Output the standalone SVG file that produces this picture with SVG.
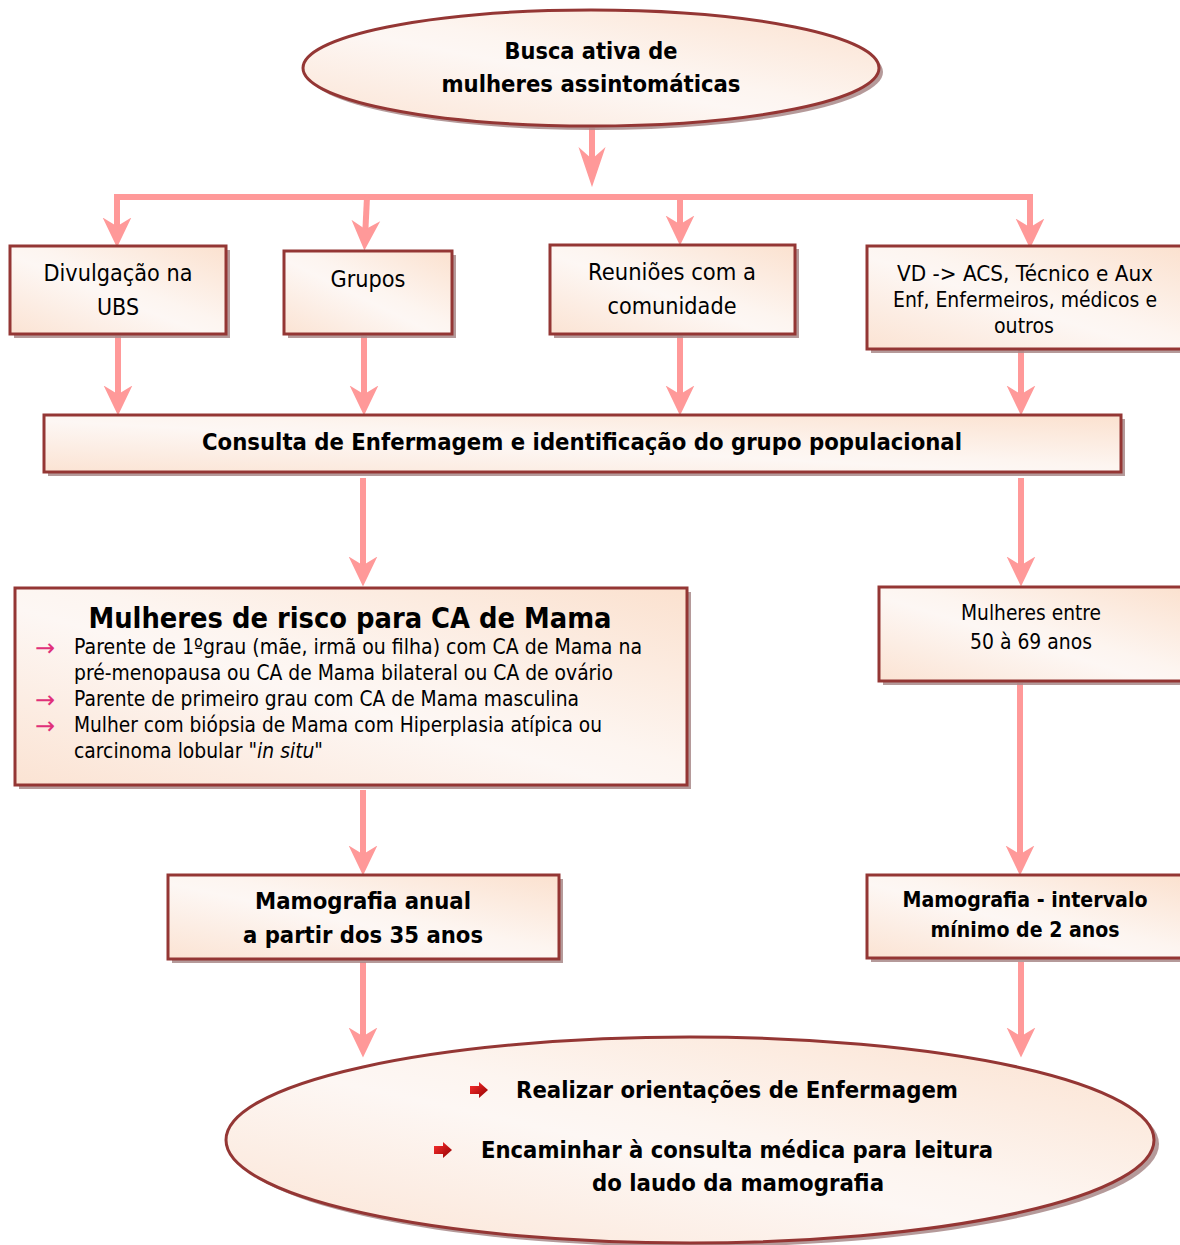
<svg xmlns="http://www.w3.org/2000/svg" width="1180" height="1245" viewBox="0 0 1180 1245">
<defs>
<linearGradient id="fill" x1="0" y1="1" x2="1" y2="0">
<stop offset="0" stop-color="#fbe3d3"/>
<stop offset="0.45" stop-color="#fdf7f4"/>
<stop offset="0.55" stop-color="#fdf5f0"/>
<stop offset="1" stop-color="#fbe1cf"/>
</linearGradient>
<linearGradient id="bul" x1="0" y1="0" x2="1" y2="1">
<stop offset="0" stop-color="#ff3030"/>
<stop offset="1" stop-color="#900000"/>
</linearGradient>
<marker id="ah" markerUnits="userSpaceOnUse" markerWidth="30" markerHeight="30" viewBox="0 -12 24 24" refX="14" refY="0" orient="auto">
<path d="M0,-11.5 L24,0 L0,11.5 L7,0 Z" fill="#ff9999"/>
</marker>
<marker id="ahBig" markerUnits="userSpaceOnUse" markerWidth="40" markerHeight="40" viewBox="0 -12 34 24" refX="22" refY="0" orient="auto">
<path d="M0,-11.5 L34,0 L0,11.5 L10,0 Z" fill="#ff9999"/>
</marker>
</defs>
<style>
.shadow{fill:#a88888;opacity:0.85}
.box{fill:url(#fill);stroke:#943634;stroke-width:3}
.t{font-family:"DejaVu Sans","Liberation Sans",sans-serif;fill:#000}
.b{font-weight:bold}
.c{text-anchor:middle}
.conn{stroke:#ff9999;stroke-width:6;fill:none}
.arr{marker-end:url(#ah)}
.pk{fill:#e0307a}
</style>
<rect width="1180" height="1245" fill="#fff"/>

<g id="connectors">
<line class="conn" x1="592" y1="128" x2="592" y2="173" marker-end="url(#ahBig)"/>
<polyline class="conn" points="117,236 117,197 1030,197 1030,236" style="marker-end:url(#ah)"/>
<line class="conn" x1="117" y1="200" x2="117" y2="235" marker-end="url(#ah)"/>
<line class="conn arr" x1="367" y1="197" x2="365" y2="238"/>
<line class="conn arr" x1="680" y1="197" x2="680" y2="233"/>
<line class="conn arr" x1="118" y1="336" x2="118" y2="403"/>
<line class="conn arr" x1="364" y1="336" x2="364" y2="403"/>
<line class="conn arr" x1="680" y1="336" x2="680" y2="403"/>
<line class="conn arr" x1="1021" y1="350" x2="1021" y2="403"/>
<line class="conn arr" x1="363" y1="478" x2="363" y2="574"/>
<line class="conn arr" x1="1021" y1="478" x2="1021" y2="574"/>
<line class="conn arr" x1="363" y1="790" x2="363" y2="863"/>
<line class="conn arr" x1="1020" y1="683" x2="1020" y2="863"/>
<line class="conn arr" x1="363" y1="962" x2="363" y2="1045"/>
<line class="conn arr" x1="1021" y1="962" x2="1021" y2="1045"/>
</g>

<g id="busca">
<ellipse class="shadow" cx="595" cy="72" rx="288" ry="58"/>
<ellipse class="box" cx="591" cy="68" rx="288" ry="58"/>
<text class="t b c" x="591" y="59" font-size="23" textLength="173" lengthAdjust="spacingAndGlyphs">Busca ativa de</text>
<text class="t b c" x="591" y="92" font-size="23" textLength="299" lengthAdjust="spacingAndGlyphs">mulheres assintomáticas</text>
</g>

<g id="divulgacao">
<rect class="shadow" x="14" y="250" width="216" height="88"/>
<rect class="box" x="10" y="246" width="216" height="88"/>
<text class="t c" x="118" y="281" font-size="23" textLength="149" lengthAdjust="spacingAndGlyphs">Divulgação na</text>
<text class="t c" x="118" y="315" font-size="23" textLength="42" lengthAdjust="spacingAndGlyphs">UBS</text>
</g>

<g id="grupos">
<rect class="shadow" x="288" y="255" width="168" height="83"/>
<rect class="box" x="284" y="251" width="168" height="83"/>
<text class="t c" x="368" y="287" font-size="23" textLength="75" lengthAdjust="spacingAndGlyphs">Grupos</text>
</g>

<g id="reunioes">
<rect class="shadow" x="554" y="249" width="245" height="89"/>
<rect class="box" x="550" y="245" width="245" height="89"/>
<text class="t c" x="672" y="280" font-size="23" textLength="168" lengthAdjust="spacingAndGlyphs">Reuniões com a</text>
<text class="t c" x="672" y="314" font-size="23" textLength="129" lengthAdjust="spacingAndGlyphs">comunidade</text>
</g>

<g id="vd">
<rect class="shadow" x="871" y="250" width="315" height="103"/>
<rect class="box" x="867" y="246" width="315" height="103"/>
<text class="t c" x="1025" y="281" font-size="21" textLength="256" lengthAdjust="spacingAndGlyphs">VD -&gt; ACS, Técnico e Aux</text>
<text class="t c" x="1025" y="307" font-size="21" textLength="264" lengthAdjust="spacingAndGlyphs">Enf, Enfermeiros, médicos e</text>
<text class="t c" x="1024" y="333" font-size="21" textLength="60" lengthAdjust="spacingAndGlyphs">outros</text>
</g>

<g id="consulta">
<rect class="shadow" x="48" y="419" width="1077" height="57"/>
<rect class="box" x="44" y="415" width="1077" height="57"/>
<text class="t b c" x="582" y="450" font-size="23" textLength="760" lengthAdjust="spacingAndGlyphs">Consulta de Enfermagem e identificação do grupo populacional</text>
</g>

<g id="risco">
<rect class="shadow" x="19" y="592" width="672" height="197"/>
<rect class="box" x="15" y="588" width="672" height="197"/>
<text class="t b c" x="350" y="628" font-size="28" textLength="523" lengthAdjust="spacingAndGlyphs">Mulheres de risco para CA de Mama</text>
<text class="t pk" x="35" y="656" font-size="24">→</text>
<text class="t pk" x="35" y="708" font-size="24">→</text>
<text class="t pk" x="35" y="734" font-size="24">→</text>
<text class="t" x="74" y="654" font-size="21" textLength="568" lengthAdjust="spacingAndGlyphs">Parente de 1ºgrau (mãe, irmã ou filha) com CA de Mama na</text>
<text class="t" x="74" y="680" font-size="21" textLength="539" lengthAdjust="spacingAndGlyphs">pré-menopausa ou CA de Mama bilateral ou CA de ovário</text>
<text class="t" x="74" y="706" font-size="21" textLength="505" lengthAdjust="spacingAndGlyphs">Parente de primeiro grau com CA de Mama masculina</text>
<text class="t" x="74" y="732" font-size="21" textLength="528" lengthAdjust="spacingAndGlyphs">Mulher com biópsia de Mama com Hiperplasia atípica ou</text>
<text class="t" x="74" y="758" font-size="21" textLength="249" lengthAdjust="spacingAndGlyphs">carcinoma lobular <tspan font-style="italic">"in situ"</tspan></text>
</g>

<g id="entre">
<rect class="shadow" x="883" y="591" width="303" height="94"/>
<rect class="box" x="879" y="587" width="303" height="94"/>
<text class="t c" x="1031" y="620" font-size="21" textLength="140" lengthAdjust="spacingAndGlyphs">Mulheres entre</text>
<text class="t c" x="1031" y="649" font-size="21" textLength="122" lengthAdjust="spacingAndGlyphs">50 à 69 anos</text>
</g>

<g id="anual">
<rect class="shadow" x="172" y="879" width="391" height="84"/>
<rect class="box" x="168" y="875" width="391" height="84"/>
<text class="t b c" x="363" y="909" font-size="23" textLength="216" lengthAdjust="spacingAndGlyphs">Mamografia anual</text>
<text class="t b c" x="363" y="943" font-size="23" textLength="240" lengthAdjust="spacingAndGlyphs">a partir dos 35 anos</text>
</g>

<g id="intervalo">
<rect class="shadow" x="871" y="879" width="315" height="83"/>
<rect class="box" x="867" y="875" width="315" height="83"/>
<text class="t b c" x="1025" y="907" font-size="21" textLength="245" lengthAdjust="spacingAndGlyphs">Mamografia - intervalo</text>
<text class="t b c" x="1025" y="937" font-size="21" textLength="189" lengthAdjust="spacingAndGlyphs">mínimo de 2 anos</text>
</g>

<g id="orientacoes">
<ellipse class="shadow" cx="695" cy="1144" rx="464" ry="103"/>
<ellipse class="box" cx="690" cy="1140" rx="464" ry="103"/>
<path d="M470,1086 h9 v-4 l9,8 l-9,8 v-4 h-9 z" fill="url(#bul)"/>
<path d="M434,1146 h9 v-4 l9,8 l-9,8 v-4 h-9 z" fill="url(#bul)"/>
<text class="t b" x="516" y="1098" font-size="23" textLength="442" lengthAdjust="spacingAndGlyphs">Realizar orientações de Enfermagem</text>
<text class="t b" x="481" y="1158" font-size="23" textLength="512" lengthAdjust="spacingAndGlyphs">Encaminhar à consulta médica para leitura</text>
<text class="t b c" x="738" y="1191" font-size="23" textLength="292" lengthAdjust="spacingAndGlyphs">do laudo da mamografia</text>
</g>
</svg>
